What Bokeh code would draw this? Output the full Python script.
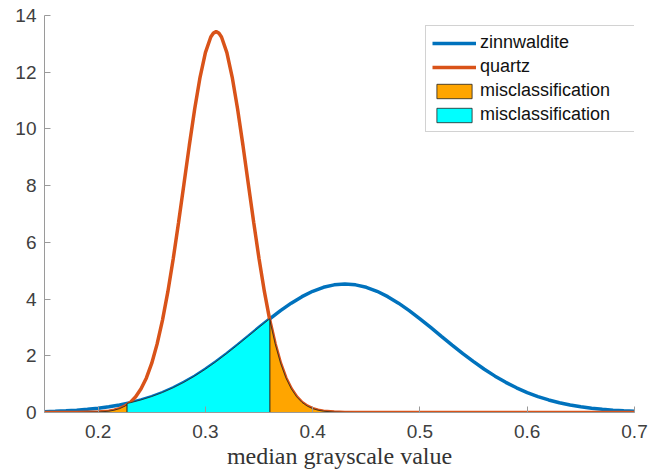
import numpy as np
from bokeh.plotting import figure
from bokeh.models import Range1d, FixedTicker, Legend, LegendItem
from bokeh.embed import file_html
from bokeh.resources import INLINE

# ---- data ----
quartz_x = [0.15, 0.18, 0.20, 0.21, 0.215, 0.22, 0.225, 0.23, 0.235, 0.24, 0.245,
            0.25, 0.255, 0.26, 0.265, 0.27, 0.275, 0.28, 0.285, 0.29, 0.295,
            0.30, 0.305, 0.3075, 0.31, 0.3125, 0.315, 0.32, 0.325, 0.33, 0.335, 0.34, 0.345,
            0.35, 0.355, 0.36, 0.365, 0.37, 0.375, 0.38, 0.385, 0.39, 0.395,
            0.40, 0.405, 0.41, 0.42, 0.43, 0.44, 0.50, 0.70]
quartz_y = [0.0, 0.001, 0.014, 0.046, 0.081, 0.136, 0.223, 0.357, 0.553, 0.835, 1.22,
            1.74, 2.42, 3.26, 4.26, 5.42, 6.71, 8.06, 9.42, 10.70, 11.82,
            12.69, 13.24, 13.38, 13.43, 13.38, 13.24, 12.69, 11.82, 10.70, 9.42, 8.06, 6.71,
            5.42, 4.26, 3.26, 2.42, 1.74, 1.22, 0.835, 0.553, 0.357, 0.223,
            0.136, 0.081, 0.046, 0.014, 0.004, 0.001, 0.0, 0.0]

zinn_x = [0.15, 0.16, 0.17, 0.18, 0.19, 0.20, 0.21, 0.22, 0.23, 0.24, 0.25,
          0.26, 0.27, 0.28, 0.29, 0.30, 0.31, 0.32, 0.33, 0.34, 0.35,
          0.36, 0.37, 0.38, 0.39, 0.40, 0.41, 0.42, 0.43, 0.44, 0.45,
          0.46, 0.47, 0.48, 0.49, 0.50, 0.51, 0.52, 0.53, 0.54, 0.55,
          0.56, 0.57, 0.58, 0.59, 0.60, 0.61, 0.62, 0.63, 0.64, 0.65,
          0.66, 0.67, 0.68, 0.69, 0.70]
zinn_y = [0.029, 0.041, 0.058, 0.081, 0.111, 0.150, 0.200, 0.264, 0.344, 0.443, 0.562,
          0.704, 0.871, 1.063, 1.282, 1.525, 1.792, 2.078, 2.379, 2.688, 3.000,
          3.304, 3.592, 3.856, 4.086, 4.275, 4.415, 4.501, 4.53, 4.501, 4.415,
          4.275, 4.086, 3.856, 3.592, 3.304, 3.000, 2.688, 2.379, 2.078, 1.792,
          1.525, 1.282, 1.063, 0.871, 0.704, 0.562, 0.443, 0.344, 0.264, 0.200,
          0.150, 0.111, 0.081, 0.058, 0.041]

lower_cross = 0.227   # where the two curves meet on the left
threshold = 0.36      # decision threshold (upper crossing)
orange_end = 0.671    # right end of the orange area
x_start = 0.15

x_ticks = [0.2, 0.3, 0.4, 0.5, 0.6, 0.7]
y_ticks = [0, 2, 4, 6, 8, 10, 12, 14]

labels = ["zinnwaldite", "quartz", "misclassification", "misclassification"]


def area(xs, ys, a, b):
    xs = np.asarray(xs, float)
    ys = np.asarray(ys, float)
    inner = (xs > a) & (xs < b)
    px = [a, a] + list(xs[inner]) + [b, b]
    py = [0.0, float(np.interp(a, xs, ys))] + list(ys[inner]) + [float(np.interp(b, xs, ys)), 0.0]
    return px, py


p = figure(width=660, height=476, output_backend="svg", toolbar_location=None,
           x_range=Range1d(0.15, 0.7), y_range=Range1d(0, 14),
           min_border_left=44, min_border_right=26, min_border_top=15, min_border_bottom=64)
p.outline_line_color = None
p.xgrid.visible = False
p.ygrid.visible = False
p.background_fill_color = "white"
p.border_fill_color = "white"

for ax in (p.xaxis, p.yaxis):
    ax.axis_line_color = "#9a9a9a"
    ax.major_tick_line_color = "#9a9a9a"
    ax.minor_tick_line_color = None
    ax.major_tick_in = 6
    ax.major_tick_out = 0
    ax.major_label_text_font = "Liberation Sans"
    ax.major_label_text_font_size = "19px"
    ax.major_label_text_color = "#404040"

p.xaxis.ticker = FixedTicker(ticks=x_ticks)
p.yaxis.ticker = FixedTicker(ticks=y_ticks)
p.xaxis.major_label_standoff = 12
p.yaxis.major_label_standoff = 8
p.xaxis.axis_label = "median grayscale value"
p.xaxis.axis_label_text_font = "Liberation Serif"
p.xaxis.axis_label_text_font_size = "24px"
p.xaxis.axis_label_text_font_style = "normal"
p.xaxis.axis_label_text_color = "#333333"
p.xaxis.axis_label_standoff = 2

blue = "#0072BD"
red = "#D95319"

r_zinn = p.line(zinn_x, zinn_y, line_color=blue, line_width=3.5)
r_quartz = p.line(quartz_x, quartz_y, line_color=red, line_width=3.5)

ox1, oy1 = area(quartz_x, quartz_y, x_start, lower_cross)
ox2, oy2 = area(quartz_x, quartz_y, threshold, orange_end)
r_orange = p.patches([ox1, ox2], [oy1, oy2], fill_color="#FFA500",
                     line_color="#222222", line_width=0.8)
cx, cy = area(zinn_x, zinn_y, lower_cross, threshold)
r_cyan = p.patch(cx, cy, fill_color="#00FFFF", line_color="#222222", line_width=0.8)

legend = Legend(items=[LegendItem(label=labels[0], renderers=[r_zinn]),
                       LegendItem(label=labels[1], renderers=[r_quartz]),
                       LegendItem(label=labels[2], renderers=[r_orange]),
                       LegendItem(label=labels[3], renderers=[r_cyan])],
                location=(381, 280))
legend.label_text_font = "Liberation Sans"
legend.label_text_font_size = "18px"
legend.label_text_color = "#111111"
legend.glyph_width = 44
legend.glyph_height = 18
legend.label_height = 18
legend.label_width = 152
legend.label_standoff = 4
legend.padding = 6
legend.spacing = 3
legend.margin = 0
legend.border_line_color = "#a6a6a6"
legend.border_line_width = 1
legend.background_fill_alpha = 1.0
p.add_layout(legend)

open("out.html", "w").write(file_html(p, INLINE))
